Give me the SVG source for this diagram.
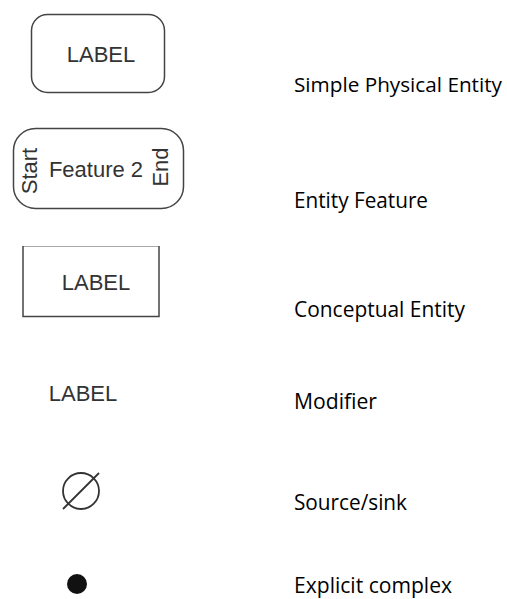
<svg xmlns="http://www.w3.org/2000/svg" width="507" height="599" viewBox="0 0 507 599">
<style>
.sym{font-family:"Liberation Sans",Arial,sans-serif;font-size:22px;fill:#333;}
.lbl{font-family:"Open Sans","Noto Sans",sans-serif;font-size:22px;fill:#000;}
.box{fill:#fff;stroke:#444;stroke-width:1.5;}
</style>
<rect width="507" height="599" fill="#fff"/>
<g id="simple-physical-entity">
<rect class="box" x="31.5" y="14.5" width="133" height="78" rx="16"/>
<text class="sym" x="101" y="62" text-anchor="middle">LABEL</text>
</g>
<g id="entity-feature">
<rect class="box" x="13.5" y="128.5" width="170" height="80" rx="22"/>
<text class="sym" x="96" y="177" text-anchor="middle">Feature 2</text>
<text class="sym" transform="translate(37,171) rotate(-90)" text-anchor="middle">Start</text>
<text class="sym" transform="translate(168,167) rotate(-90)" text-anchor="middle">End</text>
</g>
<g id="conceptual-entity">
<rect x="23" y="246" width="136" height="71" fill="#fff" stroke="none"/>
<line x1="23" y1="246.5" x2="159" y2="246.5" stroke="#aaa" stroke-width="1"/>
<polyline points="23,246 23,316.5 159,316.5 159,246" fill="none" stroke="#444" stroke-width="1.5"/>
<text class="sym" x="96" y="290" text-anchor="middle">LABEL</text>
</g>
<g id="modifier">
<text class="sym" x="83" y="401" text-anchor="middle">LABEL</text>
</g>
<g id="source-sink">
<circle cx="81" cy="491" r="18" fill="none" stroke="#333" stroke-width="1.8"/>
<line x1="63" y1="509" x2="99" y2="473" stroke="#333" stroke-width="1.8"/>
</g>
<g id="explicit-complex">
<circle cx="77" cy="584" r="10" fill="#111"/>
</g>
<g id="legend-labels">
<text class="lbl" x="294" y="92" style="font-size:20px" textLength="208" lengthAdjust="spacingAndGlyphs">Simple Physical Entity</text>
<text class="lbl" x="294" y="208" textLength="134" lengthAdjust="spacingAndGlyphs">Entity Feature</text>
<text class="lbl" x="294" y="317" textLength="171" lengthAdjust="spacingAndGlyphs">Conceptual Entity</text>
<text class="lbl" x="294" y="409" textLength="83" lengthAdjust="spacingAndGlyphs">Modifier</text>
<text class="lbl" x="294" y="510" textLength="113" lengthAdjust="spacingAndGlyphs">Source/sink</text>
<text class="lbl" x="294" y="593" textLength="158" lengthAdjust="spacingAndGlyphs">Explicit complex</text>
</g>
</svg>
